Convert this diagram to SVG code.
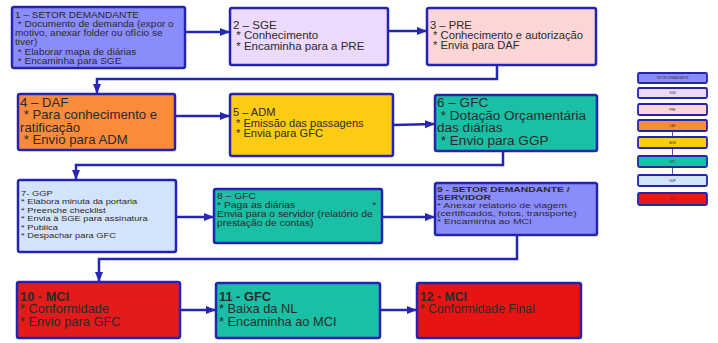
<svg xmlns="http://www.w3.org/2000/svg" width="718" height="343" viewBox="0 0 718 343">
<defs>
<marker id="ah" viewBox="0 0 10 10" refX="9" refY="5" markerWidth="4" markerHeight="4" orient="auto" markerUnits="strokeWidth">
<path d="M0,1 L10,5 L0,9 z" fill="#2626b4"/>
</marker>
<style>
.box{stroke:#2424b0;stroke-width:2.5}
.t{font-family:"Liberation Sans",Arial,sans-serif;fill:#2a2a2a}
.b{font-weight:bold}
.c{fill:none;stroke:#2626b4;stroke-width:2.5}
.lg{stroke:#2424b0;stroke-width:1.8}
.lt{font-family:"Liberation Sans",Arial,sans-serif;font-size:3px;fill:#333;text-anchor:middle}
</style>
</defs>
<rect width="718" height="343" fill="#ffffff"/>
<g id="connectors">
<path class="c" d="M185,32 L229,32" marker-end="url(#ah)"/>
<path class="c" d="M388,31 L426,31" marker-end="url(#ah)"/>
<path class="c" d="M497,65 L497,79 L97,79 L97,93" marker-end="url(#ah)"/>
<path class="c" d="M175,116 L229,116" marker-end="url(#ah)"/>
<path class="c" d="M393,125 L434,124" marker-end="url(#ah)"/>
<path class="c" d="M503,151 L503,165 L76,165 L76,179" marker-end="url(#ah)"/>
<path class="c" d="M176,217 L213,217" marker-end="url(#ah)"/>
<path class="c" d="M382,217 L434,217" marker-end="url(#ah)"/>
<path class="c" d="M517,235 L517,259 L99,259 L99,281" marker-end="url(#ah)"/>
<path class="c" d="M180,310 L215,310" marker-end="url(#ah)"/>
<path class="c" d="M380,310 L416,310" marker-end="url(#ah)"/>
</g>
<g id="n1">
<rect class="box" x="12" y="7" width="173" height="61" rx="2" fill="#8a8cfc"/>
<text class="t" font-size="8.8" transform="translate(15,0) scale(1.14,1)"><tspan x="0" y="18">1 – SETOR DEMANDANTE</tspan><tspan x="0" y="27"> * Documento de demanda (expor o</tspan><tspan x="0" y="36">motivo, anexar folder ou ofício se</tspan><tspan x="0" y="45">tiver)</tspan><tspan x="0" y="55"> * Elaborar mapa de diárias</tspan><tspan x="0" y="64"> * Encaminha para SGE</tspan></text>
</g>
<g id="n2">
<rect class="box" x="230" y="8" width="158" height="57" rx="2" fill="#ecd9fb"/>
<text class="t" font-size="10.5" transform="translate(233,0) scale(1.1,1)"><tspan x="0" y="29">2 – SGE</tspan><tspan x="0" y="39.5"> * Conhecimento</tspan><tspan x="0" y="50.5"> * Encaminha para a PRE</tspan></text>
</g>
<g id="n3">
<rect class="box" x="427" y="8" width="169" height="57" rx="2" fill="#fcd5d7"/>
<text class="t" font-size="10" transform="translate(430,0) scale(1.12,1)"><tspan x="0" y="29">3 – PRE</tspan><tspan x="0" y="39">  * Conhecimento e autorização</tspan><tspan x="0" y="49">  * Envia para DAF</tspan></text>
</g>
<g id="n4">
<rect class="box" x="18" y="94" width="157" height="56" rx="2" fill="#f98b3a"/>
<text class="t" font-size="12" transform="translate(20,0) scale(1.1,1)"><tspan x="0" y="107">4 – DAF</tspan><tspan x="0" y="119.5"> * Para conhecimento e</tspan><tspan x="0" y="132">ratificação</tspan><tspan x="0" y="144.5"> * Envio para ADM</tspan></text>
</g>
<g id="n5">
<rect class="box" x="230" y="94" width="163" height="62" rx="2" fill="#fdcb13"/>
<text class="t" font-size="10" transform="translate(233,0) scale(1.11,1)"><tspan x="0" y="116">5 – ADM</tspan><tspan x="0" y="127">  * Emissão das passagens</tspan><tspan x="0" y="137">  * Envia para GFC</tspan></text>
</g>
<g id="n6">
<rect class="box" x="435" y="95" width="162" height="56" rx="2" fill="#1ac0a6"/>
<text class="t" font-size="12" transform="translate(437,0) scale(1.13,1)"><tspan x="0" y="107.5">6 – GFC</tspan><tspan x="0" y="120">  * Dotação Orçamentária</tspan><tspan x="0" y="132.5">das diárias</tspan><tspan x="0" y="145">  * Envio para GGP</tspan></text>
</g>
<g id="n7">
<rect class="box" x="18" y="180" width="158" height="72" rx="2" fill="#d3e3fb"/>
<text class="t" font-size="8" transform="translate(21,0) scale(1.17,1)"><tspan x="0" y="196">7- GGP</tspan><tspan x="0" y="204.5">* Elabora minuta da portaria</tspan><tspan x="0" y="213">* Preenche checklist</tspan><tspan x="0" y="221.5">* Envia à SGE para assinatura</tspan><tspan x="0" y="230">* Publica</tspan><tspan x="0" y="238.5">* Despachar para GFC</tspan></text>
</g>
<g id="n8">
<rect class="box" x="214" y="189" width="168" height="54" rx="2" fill="#1ac0a6"/>
<text class="t" font-size="9" transform="translate(217,0) scale(1.15,1)"><tspan x="0" y="199">8 – GFC</tspan><tspan x="0" y="208">* Paga as diárias</tspan><tspan x="135" y="208">*</tspan><tspan x="0" y="217">Envia para o servidor (relatório de</tspan><tspan x="0" y="226.5">prestação de contas)</tspan></text>
</g>
<g id="n9">
<rect class="box" x="435" y="183" width="162" height="52" rx="2" fill="#8a8cfc"/>
<text class="t" font-size="7.8" transform="translate(437,0) scale(1.33,1)"><tspan class="b" x="0" y="192">9 - SETOR DEMANDANTE /</tspan><tspan class="b" x="0" y="200">SERVIDOR</tspan><tspan x="0" y="208">* Anexar relatorio de viagem</tspan><tspan x="0" y="216">(certificados, fotos, transporte)</tspan><tspan x="0" y="224">* Encaminha ao MCI</tspan></text>
</g>
<g id="n10">
<rect class="box" x="17" y="282" width="163" height="56" rx="2" fill="#e41b1b"/>
<text class="t" font-size="12" transform="translate(20,0) scale(1.07,1)"><tspan class="b" x="0" y="301">10 - MCI</tspan><tspan x="0" y="313.5">* Conformidade</tspan><tspan x="0" y="326">* Envio para GFC</tspan></text>
</g>
<g id="n11">
<rect class="box" x="216" y="283" width="164" height="55" rx="2" fill="#1ac0a6"/>
<text class="t" font-size="12" transform="translate(219,0) scale(1.07,1)"><tspan class="b" x="0" y="301">11 - GFC</tspan><tspan x="0" y="313.5">* Baixa da NL</tspan><tspan x="0" y="326">* Encaminha ao MCI</tspan></text>
</g>
<g id="n12">
<rect class="box" x="417" y="283" width="164" height="55" rx="2" fill="#e81414"/>
<text class="t" font-size="12" transform="translate(420,0) scale(1.02,1)"><tspan class="b" x="0" y="301">12 - MCI</tspan><tspan x="0" y="313.5">* Conformidade Final</tspan></text>
</g>
<g id="legend">
<path d="M672.5,131 V137 M672.5,148 V156 M672.5,167 V175" stroke="#2424b0" stroke-width="0.8" fill="none"/>
<rect class="lg" x="638" y="73" width="69" height="10" rx="1.5" fill="#8a8cfc"/>
<text class="lt" x="672.5" y="79">SETOR DEMANDANTE</text>
<rect class="lg" x="638" y="88" width="69" height="10" rx="1.5" fill="#ecd9fb"/>
<text class="lt" x="672.5" y="94">SGE</text>
<rect class="lg" x="638" y="104" width="69" height="11" rx="1.5" fill="#fcd5d7"/>
<text class="lt" x="672.5" y="110.5">PRE</text>
<rect class="lg" x="638" y="120" width="69" height="11" rx="1.5" fill="#f98b3a"/>
<text class="lt" x="672.5" y="126.5">DAF</text>
<rect class="lg" x="638" y="137" width="69" height="11" rx="1.5" fill="#fdcb13"/>
<text class="lt" x="672.5" y="143.5">ADM</text>
<rect class="lg" x="638" y="156" width="69" height="11" rx="1.5" fill="#1ac0a6"/>
<text class="lt" x="672.5" y="162.5">GFC</text>
<rect class="lg" x="638" y="175" width="69" height="11" rx="1.5" fill="#d3e3fb"/>
<text class="lt" x="672.5" y="181.5">GGP</text>
<rect class="lg" x="638" y="193" width="69" height="12" rx="1.5" fill="#e41b1b"/>
<text class="lt" x="672.5" y="200">MCI</text>
</g>
</svg>
